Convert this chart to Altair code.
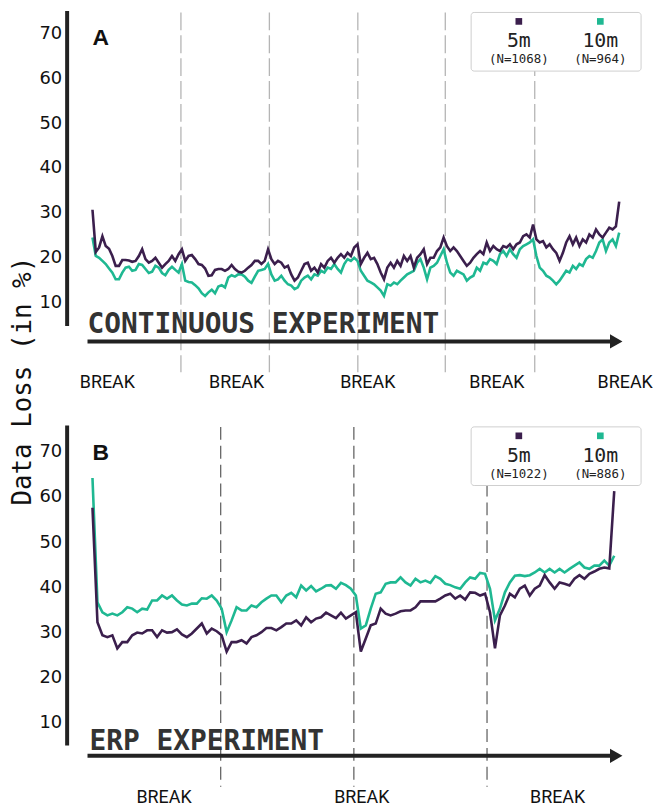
import altair as alt
import pandas as pd

# ---------------- data ----------------
SERIES = ["5m", "10m"]
A_N = [1068, 964]
B_N = [1022, 886]
Y_TICKS = [10, 20, 30, 40, 50, 60, 70]

# Panel A - continuous experiment, data loss (%) per sample
A_5M = [30.7, 21.3, 22.3, 24.8, 22.6, 22.0, 20.4, 18.2, 18.2, 19.5,
        19.5, 19.4, 19.1, 19.3, 20.4, 21.9, 19.7, 18.9, 19.3, 20.0,
        18.9, 17.8, 18.6, 19.3, 20.4, 19.3, 20.8, 21.9, 19.3, 20.4,
        20.6, 19.7, 18.6, 18.4, 17.6, 16.0, 16.1, 17.3, 17.5, 17.5,
        17.1, 17.5, 18.4, 17.5, 16.9, 16.7, 17.1, 17.8, 18.4, 19.3,
        19.3, 18.6, 19.3, 21.9, 19.7, 18.6, 19.3, 18.9, 17.8, 18.2,
        16.3, 14.9, 15.6, 17.1, 18.6, 18.9, 17.1, 17.8, 16.7, 18.6,
        17.8, 19.3, 20.0, 18.9, 20.0, 20.8, 20.0, 21.1, 20.4, 22.3,
        23.0,
        18.6, 20.0, 21.1, 19.7, 20.0, 18.6, 16.7, 15.2, 17.8, 18.9,
        17.8, 19.3, 18.2, 20.4, 19.3, 20.4, 17.8, 20.0, 20.8, 21.9,
        18.6, 20.0, 20.0, 21.5, 22.3, 24.5, 22.6, 21.5, 22.3, 21.5,
        20.4, 19.3, 18.2, 18.9, 20.0, 20.8, 21.5, 20.8, 23.4, 21.5,
        22.6, 21.9, 21.5, 22.6, 22.3, 23.0, 21.9, 23.0, 23.4, 24.8,
        25.2, 24.5, 27.4, 24.1, 23.4, 23.7, 22.3, 23.0, 21.9, 21.1,
        19.3, 21.1, 23.4, 24.8, 23.0, 24.5, 22.6, 24.1, 23.4, 25.2,
        24.5, 26.3, 25.2, 24.5, 25.6, 26.7, 26.3, 27.0, 32.5]
A_10M = [24.5, 20.4, 20.0, 19.3, 18.6, 17.6, 16.7, 15.2, 15.2, 16.7,
         17.8, 18.0, 17.1, 17.3, 18.6, 18.4, 17.5, 16.6, 16.9, 18.2,
         17.8, 16.6, 16.1, 17.3, 18.0, 17.3, 16.7, 18.6, 14.9, 14.6,
         14.5, 13.9, 13.2, 12.1, 11.5, 12.3, 12.9, 12.1, 13.6, 13.9,
         13.4, 15.6, 16.1, 15.8, 16.3, 16.3, 15.8, 14.9, 14.4, 15.8,
         17.1, 17.3, 17.5, 18.6, 16.3, 14.9, 15.2, 16.0, 14.9, 14.1,
         13.8, 13.0, 13.4, 14.9, 15.6, 16.0, 15.2, 16.3, 16.0, 17.1,
         16.7, 17.8, 17.5, 18.6, 17.5, 16.7, 18.6, 19.7, 19.3, 20.0,
         19.3,
         17.1, 16.0, 14.9, 14.5, 14.1, 13.4, 12.7, 11.5, 14.1, 13.8,
         14.5, 14.1, 14.9, 15.6, 16.3, 16.7, 17.1, 18.9, 19.7, 17.8,
         15.2, 17.8, 18.2, 18.9, 20.4, 21.9, 18.9, 16.7, 16.0, 17.1,
         16.7, 16.3, 14.9, 15.6, 16.0, 17.8, 17.1, 18.9, 18.6, 19.7,
         19.3, 18.6, 20.8, 21.5, 20.4, 21.9, 20.8, 20.0, 21.9, 22.6,
         23.0, 23.4, 24.1, 20.4, 17.8, 17.1, 16.0, 15.6, 14.9, 14.1,
         14.9, 16.0, 17.1, 16.7, 18.2, 17.5, 18.6, 18.2, 19.7, 20.4,
         20.0, 21.5, 23.4, 24.1, 21.5, 23.4, 24.1, 22.6, 25.6]

# Panel B - ERP experiment
B_5M = [57.6, 32.3, 29.4, 29.0, 29.4, 26.5, 27.9, 27.9, 29.4, 30.0,
        29.8, 30.5, 30.5, 29.0, 30.5, 30.0, 30.1, 30.7, 29.6, 29.0,
        29.8, 30.9, 32.0, 29.8, 30.9, 30.3, 29.4, 25.8, 27.9, 27.9,
        28.3, 27.6, 29.0, 29.4, 30.1, 31.0, 31.0,
        30.5, 31.2, 32.0, 32.0, 32.7, 31.6, 33.4, 32.3, 33.1, 33.4,
        34.4, 33.8, 33.2, 34.4, 33.1, 33.8, 34.5, 25.8, 28.7, 31.6,
        32.0, 35.3, 34.2, 33.8, 34.2, 34.7, 34.9, 34.9, 35.6, 36.9,
        36.9, 36.9, 36.9, 37.5, 38.2, 38.6,
        37.5, 38.2, 37.3, 38.9, 38.8, 38.2, 38.6, 34.5, 26.5, 33.8,
        36.0, 38.6, 37.8, 39.7, 40.4, 38.2, 39.7, 40.4, 42.7, 41.1,
        39.7, 41.1, 40.8, 40.4, 41.9, 42.7, 41.9, 43.0, 43.5, 44.1,
        44.4, 44.2, 61.3]
B_10M = [64.2, 36.7, 34.5, 33.8, 34.2, 33.8, 34.5, 35.6, 35.3, 34.5,
         35.3, 35.1, 37.1, 37.1, 38.2, 37.5, 38.2, 37.1, 36.2, 36.0,
         36.4, 36.4, 37.6, 37.5, 38.2, 37.1, 35.3, 30.1, 32.7, 35.6,
         34.9, 34.9, 36.0, 35.6, 36.7, 37.5, 38.2,
         38.2, 36.7, 38.2, 38.8, 37.8, 40.4, 39.3, 40.3, 39.1, 39.7,
         40.4, 40.5, 39.7, 41.0, 40.5, 39.7, 38.2, 30.9, 31.6, 35.3,
         38.6, 38.9, 40.8, 41.1, 41.1, 42.2, 41.1, 40.4, 41.9, 41.1,
         41.5, 41.0, 42.5, 41.9, 40.8, 40.5,
         40.0, 39.7, 41.1, 42.2, 41.9, 43.2, 43.0, 39.7, 32.7, 35.3,
         38.9, 41.1, 42.6, 42.7, 42.5, 42.7, 43.3, 44.1, 43.3, 44.1,
         43.3, 44.1, 43.3, 44.1, 44.8, 45.5, 44.4, 44.1, 44.8, 44.8,
         45.9, 44.8, 47.0]

# break positions and label positions (in sample units)
A_BREAKS = [26.7, 53.4, 80.1, 106.5, 133.5]
B_BREAKS = [25.8, 52.6, 79.4]
A_BREAK_LABELS = [4.5, 43.5, 83.1, 122.1, 160.8]
B_BREAK_LABELS = [14.4, 54.2, 93.6]

# ---------------- style ----------------
PURPLE = "#3b1f4d"
TEAL = "#1fb892"
INK = "#222222"
W = 583


def txt(text, x, y, **kw):
    return alt.Chart(pd.DataFrame({"t": [text]})).mark_text(**kw).encode(
        text="t:N", x=alt.value(x), y=alt.value(y))


def panel(v5, v10, breaks, label_pos, counts, letter, caption, xdom, ydom,
          height, dash, dash_color, cap_x, cap_y, with_title=False):
    xs = alt.Scale(domain=xdom, nice=False, zero=False)
    ys = alt.Scale(domain=ydom, nice=False, zero=False)
    yaxis = alt.Axis(values=Y_TICKS, title=None, grid=False, ticks=False,
                     domainWidth=4, domainColor=INK, labelFont="DejaVu Sans",
                     labelFontSize=18, labelColor="#111", labelPadding=5,
                     format="d")

    layers = []
    bdf = pd.DataFrame({"b": breaks})
    layers.append(alt.Chart(bdf).mark_rule(strokeDash=dash, strokeWidth=1.3,
                                           color=dash_color).encode(
        x=alt.X("b:Q", scale=xs, axis=None), y=alt.value(2), y2=alt.value(364)))

    for vals, col in ((v10, TEAL), (v5, PURPLE)):
        df = pd.DataFrame({"i": list(range(len(vals))), "v": vals})
        layers.append(alt.Chart(df).mark_line(strokeWidth=2.6, color=col).encode(
            x=alt.X("i:Q", scale=xs, axis=None),
            y=alt.Y("v:Q", scale=ys, axis=yaxis)))

    # legend box
    layers.append(alt.Chart(pd.DataFrame({"k": [0]})).mark_rect(
        fill="white", stroke="#cfcfcf", strokeWidth=1, cornerRadius=3).encode(
        x=alt.value(407), x2=alt.value(578), y=alt.value(2), y2=alt.value(61)))
    for name, n, col, cx in zip(SERIES, counts, (PURPLE, TEAL), (455, 537)):
        layers.append(alt.Chart(pd.DataFrame({"s": [name]})).mark_square(
            size=45, color=col, opacity=1).encode(x=alt.value(cx), y=alt.value(11)))
        layers.append(txt(name, cx, 37, font="DejaVu Sans Mono", fontSize=20,
                          color=INK, baseline="alphabetic", align="center"))
        layers.append(txt(f"(N={n})", cx, 53, font="DejaVu Sans Mono",
                          fontSize=12.5, color=INK, baseline="alphabetic",
                          align="center"))

    layers.append(txt(letter, 26, 35, font="Liberation Sans", fontWeight="bold",
                      fontSize=23, color="#111", align="left",
                      baseline="alphabetic"))

    # experiment arrow + caption
    layers.append(alt.Chart(pd.DataFrame({"k": [0]})).mark_rule(
        strokeWidth=4, color=INK).encode(
        x=alt.value(21), x2=alt.value(549), y=alt.value(333)))
    layers.append(alt.Chart(pd.DataFrame({"k": [0]})).mark_point(
        shape="triangle-right", filled=True, size=210, color=INK,
        opacity=1).encode(x=alt.value(553), y=alt.value(333)))
    layers.append(txt(caption, cap_x, cap_y, font="DejaVu Sans Mono",
                      fontWeight="bold", fontSize=28, color="#333",
                      align="left", baseline="alphabetic"))

    ldf = pd.DataFrame({"p": label_pos, "t": ["BREAK"] * len(label_pos)})
    layers.append(alt.Chart(ldf).mark_text(font="Roboto", fontSize=18,
                                           color="#111", baseline="middle").encode(
        x=alt.X("p:Q", scale=xs, axis=None), y=alt.value(375), text="t:N"))

    if with_title:
        layers.append(txt("Data Loss (in %)", -44, 373, font="DejaVu Sans Mono",
                          fontSize=26, color="#111", angle=270,
                          align="center", baseline="middle"))

    return alt.layer(*layers).properties(width=W, height=height)


top = panel(A_5M, A_10M, A_BREAKS, A_BREAK_LABELS, A_N, "A",
            "CONTINUOUS EXPERIMENT", [-7.8, 167.1], [4.91, 75.09], 317,
            [18, 5], "#b5b5b5", 21, 325, with_title=True)
bottom = panel(B_5M, B_10M, B_BREAKS, B_BREAK_LABELS, B_N, "B",
               "ERP EXPERIMENT", [-5.2, 111.4], [5.16, 75.93], 322,
               [13, 6], "#666666", 23, 327)

chart = alt.vconcat(top, bottom, spacing=100, bounds="flush").properties(
    padding={"left": 2, "top": 0, "right": 0, "bottom": 0}
).configure_view(stroke=None)

chart.save("out.html", embed_options={"renderer": "svg", "actions": False})
